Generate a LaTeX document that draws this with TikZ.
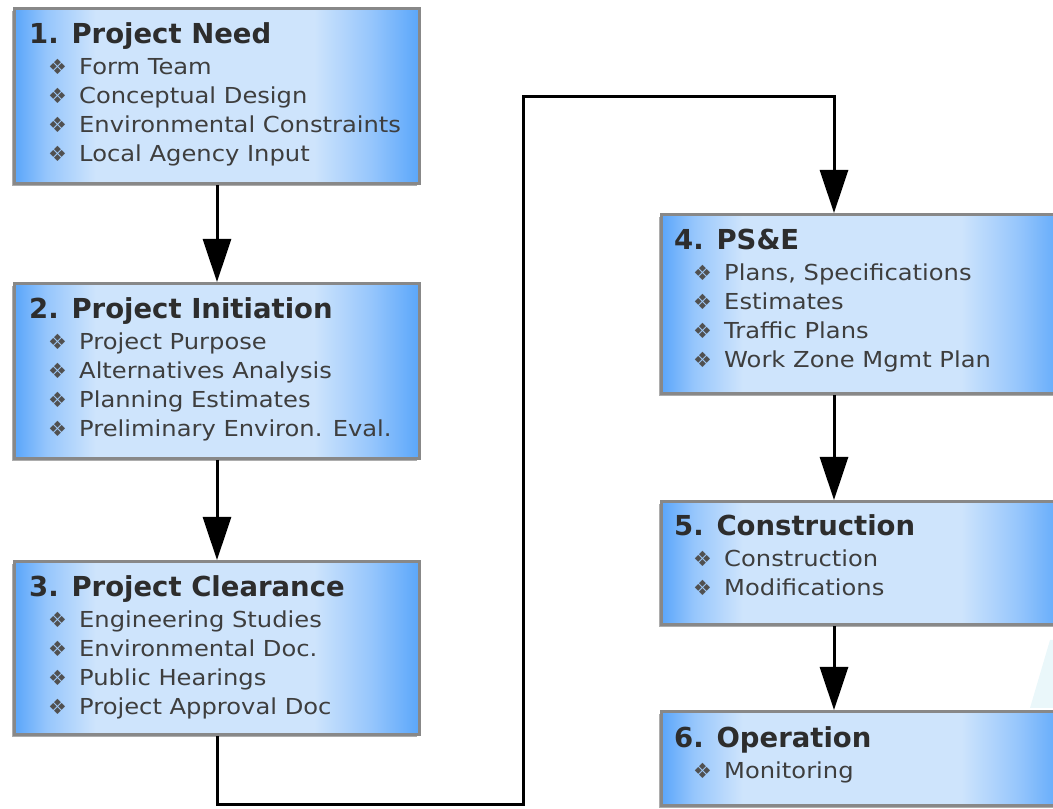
\documentclass[tikz,border=0pt]{standalone}
\usepackage{fontspec}
\setmainfont{DejaVu Sans}
\newfontfamily\stageitemfont[FakeStretch=1.1]{DejaVu Sans}
\usetikzlibrary{arrows.meta,shadows,positioning}
\definecolor{stageblue}{RGB}{90,166,250}
\definecolor{stagemid}{RGB}{150,198,252}
\definecolor{stagelight}{RGB}{206,228,252}
\definecolor{stageedge}{RGB}{136,136,136}
\definecolor{titlegray}{RGB}{45,45,45}
\definecolor{itemgray}{RGB}{62,62,62}
\definecolor{bulletgray}{RGB}{80,80,80}
\definecolor{faintcyan}{RGB}{234,247,250}
\pgfdeclarehorizontalshading{stagefill}{100bp}{color(0bp)=(stageblue); color(25bp)=(stageblue); color(29bp)=(stagemid); color(35bp)=(stagelight); color(62bp)=(stagelight); color(69bp)=(stagemid); color(75bp)=(stageblue); color(100bp)=(stageblue)}
\newcommand{\stagetitle}[1]{{\fontsize{27.5}{29}\selectfont\bfseries\color{titlegray}#1}}
\newcommand{\stageitem}[1]{\hspace*{19pt}\makebox[31pt][l]{\fontsize{21}{21}\selectfont\color{bulletgray}❖}{\stageitemfont #1}}
\tikzset{
  stage/.style={rectangle, anchor=north west, draw=stageedge, line width=3pt,
    minimum width=405pt, shading=stagefill,
    drop shadow={shadow xshift=-3pt, shadow yshift=-3pt, fill=black!32, opacity=1}},
  stagetext/.style={anchor=north west, align=left, inner sep=0pt,
    font=\fontsize{22}{29}\selectfont, text=itemgray},
  flow/.style={line width=3pt, -{Triangle[width=28pt,length=43pt]}}
}

\begin{document}
\begin{tikzpicture}[x=1pt,y=1pt]
  \useasboundingbox (0,0) rectangle (1053,809);
  % faint background streak
  \fill[faintcyan] (1050,169) -- (1053,169) -- (1053,101) -- (1030,101) -- cycle;

  % left column
  \node[stage, minimum height=175pt] (need) at (13,802) {};
  \node[stage, minimum height=175pt] (init) at (13,527) {};
  \node[stage, minimum height=173pt] (clear) at (13,249) {};
  % right column
  \node[stage, minimum height=179pt] (pse) at (660,596) {};
  \node[stage, minimum height=123pt] (build) at (660,309) {};
  \node[stage, minimum height=94pt] (oper) at (660,99) {};

  \node[stagetext] (needtext) at ([shift={(16,-15)}]need.north west) {\stagetitle{1. Project Need}\\[2pt]
    \stageitem{Form Team}\\ \stageitem{Conceptual Design}\\
    \stageitem{Environmental Constraints}\\ \stageitem{Local Agency Input}};
  \node[stagetext] (inittext) at ([shift={(16,-15)}]init.north west) {\stagetitle{2. Project Initiation}\\[2pt]
    \stageitem{Project Purpose}\\ \stageitem{Alternatives Analysis}\\
    \stageitem{Planning Estimates}\\ \stageitem{Preliminary Environ. Eval.}};
  \node[stagetext] (cleartext) at ([shift={(16,-15)}]clear.north west) {\stagetitle{3. Project Clearance}\\[2pt]
    \stageitem{Engineering Studies}\\ \stageitem{Environmental Doc.}\\
    \stageitem{Public Hearings}\\ \stageitem{Project Approval Doc}};
  \node[stagetext] (psetext) at ([shift={(14,-16)}]pse.north west) {\stagetitle{4. PS\&E}\\[2pt]
    \stageitem{Plans, Specifications}\\ \stageitem{Estimates}\\
    \stageitem{Traffic Plans}\\ \stageitem{Work Zone Mgmt Plan}};
  \node[stagetext] (buildtext) at ([shift={(14,-14)}]build.north west) {\stagetitle{5. Construction}\\[2pt]
    \stageitem{Construction}\\ \stageitem{Modifications}};
  \node[stagetext] (opertext) at ([shift={(14,-16)}]oper.north west) {\stagetitle{6. Operation}\\[2pt]
    \stageitem{Monitoring}};

  % connectors
  \coordinate (loopbottom) at (523,4);
  \coordinate (looptop) at (523,712);
  \draw[flow] (need.south) -- (init.north);
  \draw[flow] (init.south) -- (clear.north);
  \draw[flow] (clear.south) |- (loopbottom) -- (looptop) -| ([xshift=174pt]pse.north west);
  \draw[flow] ([xshift=174pt]pse.south west) -- ([xshift=174pt]build.north west);
  \draw[flow] ([xshift=174pt]build.south west) -- ([xshift=174pt]oper.north west);
\end{tikzpicture}
\end{document}
